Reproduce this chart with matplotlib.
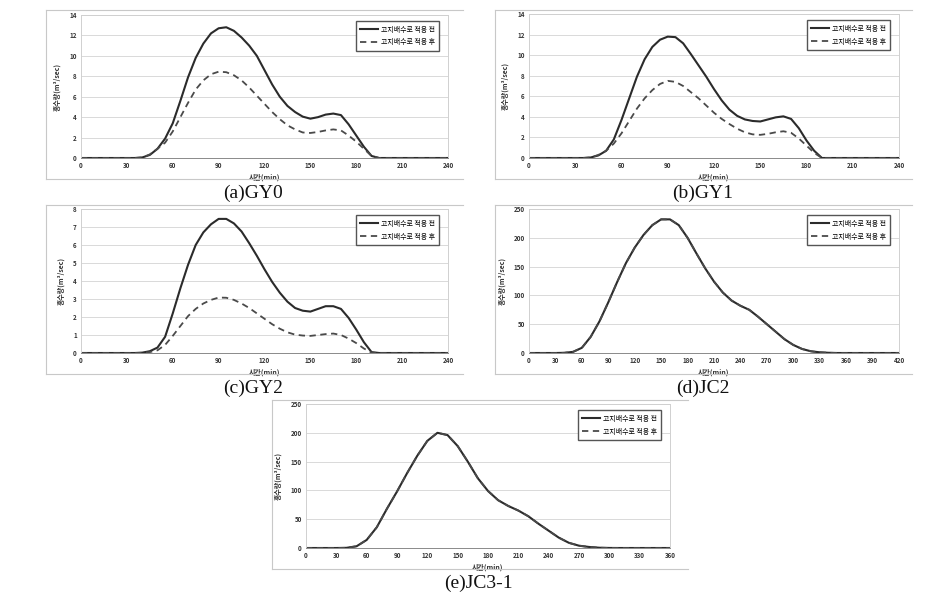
import matplotlib
matplotlib.use("Agg")
import matplotlib.pyplot as plt
from matplotlib.lines import Line2D

plt.rcParams['font.family'] = ['Noto Sans CJK KR', 'DejaVu Sans']

W, H = 942, 594

# --- data (min, m3/sec) ---
gy_t = [0, 35, 40, 45, 50, 55, 60, 65, 70, 75, 80, 85, 90, 95, 100, 105, 110, 115,
        120, 125, 130, 135, 140, 145, 150, 155, 160, 165, 170, 175, 180, 185, 190, 195, 240]

gy0_before = [0, 0, 0.05, 0.3, 0.9, 1.9, 3.4, 5.6, 7.9, 9.8, 11.2, 12.2, 12.7, 12.8, 12.45,
              11.8, 11.0, 10.0, 8.6, 7.2, 6.0, 5.1, 4.5, 4.05, 3.85, 4.0, 4.25, 4.35, 4.2,
              3.3, 2.2, 1.1, 0.2, 0, 0]
gy0_after = [0, 0, 0.05, 0.35, 0.9, 1.5, 2.6, 4.0, 5.4, 6.7, 7.6, 8.2, 8.45, 8.4, 8.1,
             7.6, 6.9, 6.1, 5.3, 4.5, 3.8, 3.2, 2.8, 2.5, 2.45, 2.55, 2.7, 2.8, 2.7,
             2.2, 1.6, 0.9, 0.2, 0, 0]

gy1_before = [0, 0, 0.05, 0.25, 0.7, 1.8, 3.7, 5.8, 7.9, 9.6, 10.8, 11.5, 11.8, 11.75, 11.15,
              10.1, 9.0, 7.9, 6.7, 5.6, 4.7, 4.1, 3.75, 3.6, 3.55, 3.75, 3.95, 4.05, 3.8,
              2.9, 1.7, 0.7, 0, 0, 0]
gy1_after = [0, 0, 0.05, 0.3, 0.7, 1.4, 2.4, 3.6, 4.8, 5.8, 6.6, 7.2, 7.5, 7.4, 7.0,
             6.4, 5.8, 5.1, 4.4, 3.8, 3.3, 2.85, 2.5, 2.3, 2.25, 2.35, 2.5, 2.6, 2.45,
             1.9, 1.2, 0.5, 0, 0, 0]

gy2_before = [0, 0, 0.02, 0.1, 0.3, 0.9, 2.2, 3.6, 4.9, 6.0, 6.7, 7.15, 7.45, 7.45, 7.2,
              6.75, 6.1, 5.4, 4.65, 3.95, 3.35, 2.85, 2.5, 2.35, 2.3, 2.45, 2.6, 2.6, 2.45,
              1.95, 1.3, 0.6, 0.05, 0, 0]
gy2_after = [0, 0, 0.01, 0.05, 0.15, 0.45, 0.95, 1.5, 2.05, 2.45, 2.75, 2.95, 3.08, 3.07, 2.95,
             2.75, 2.5, 2.2, 1.9, 1.6, 1.35, 1.15, 1.02, 0.97, 0.95, 1.0, 1.05, 1.08, 1.0,
             0.8, 0.55, 0.25, 0.02, 0, 0]

jc2_t = [0, 30, 40, 50, 60, 70, 80, 90, 100, 110, 120, 130, 140, 150, 160, 170, 180, 190,
         200, 210, 220, 230, 240, 250, 260, 270, 280, 290, 300, 310, 320, 330, 340, 350, 420]
jc2_before = [0, 0, 0.3, 2, 9, 28, 55, 88, 123, 156, 183, 205, 222, 232, 232, 222, 200, 173,
              147, 124, 105, 91, 82, 75, 63, 50, 37, 24, 14, 7, 3, 1.2, 0.4, 0, 0]
jc2_after = list(jc2_before)

jc3_t = [0, 30, 40, 50, 60, 70, 80, 90, 100, 110, 120, 130, 140, 150, 160, 170, 180, 190,
         200, 210, 220, 230, 240, 250, 260, 270, 280, 290, 300, 310, 360]
jc3_before = [0, 0, 0.3, 3, 14, 36, 68, 98, 130, 160, 186, 200, 196, 177, 150, 121, 99, 83,
              73, 65, 55, 42, 30, 18, 9, 4, 1.8, 0.5, 0.1, 0, 0]
jc3_after = list(jc3_before)

legend_labels = ["고지배수로 적용 전", "고지배수로 적용 후"]
xlabel = "시간(min)"
ylabel = "홍수량(m³/sec)"

# panel: caption, t, before, after, xmax, xstep, ymax, ystep, axes box px, frame px, caption pos px
panels = [
    ("(a)GY0", gy_t, gy0_before, gy0_after, 240, 30, 14, 2, (81, 15, 448, 158), (46, 10, 463, 179), (253, 193)),
    ("(b)GY1", gy_t, gy1_before, gy1_after, 240, 30, 14, 2, (529, 14, 899, 158), (495, 10, 912, 179), (703, 193)),
    ("(c)GY2", gy_t, gy2_before, gy2_after, 240, 30, 8, 1, (81, 209, 448, 353), (46, 205, 463, 374), (253, 388)),
    ("(d)JC2", jc2_t, jc2_before, jc2_after, 420, 30, 250, 50, (529, 209, 899, 353), (495, 205, 912, 374), (703, 388)),
    ("(e)JC3-1", jc3_t, jc3_before, jc3_after, 360, 30, 250, 50, (306, 404, 670, 548), (272, 400, 688, 569), (478, 583)),
]

fig = plt.figure(figsize=(W / 100, H / 100), dpi=100)

for cap, t, before, after, xmax, xstep, ymax, ystep, box, frame, cpos in panels:
    # outer chart frame (top, left, bottom)
    x0, y0, x1, y1 = frame
    fx0, fx1 = x0 / W, x1 / W
    fy0, fy1 = 1 - y1 / H, 1 - y0 / H
    for xs, ys in [([fx0, fx1], [fy1, fy1]), ([fx0, fx0], [fy0, fy1]), ([fx0, fx1], [fy0, fy0])]:
        fig.add_artist(Line2D(xs, ys, color="#c8c8c8", lw=0.8))

    l, tp, r, b = box
    ax = fig.add_axes([l / W, 1 - b / H, (r - l) / W, (b - tp) / H])
    ax.plot(t, before, color="#2b2b2b", lw=1.5, solid_joinstyle="round", label=legend_labels[0])
    ax.plot(t, after, color="#4a4a4a", lw=1.3, ls=(0, (3.5, 2.5)), dash_joinstyle="round",
            label=legend_labels[1])
    ax.set_xlim(0, xmax)
    ax.set_ylim(0, ymax)
    ax.set_xticks(range(0, xmax + 1, xstep))
    ax.set_yticks(range(0, ymax + 1, ystep))
    ax.grid(axis="y", color="#d9d9d9", lw=0.7)
    ax.set_axisbelow(True)
    for s in ax.spines.values():
        s.set_color("#d0d0d0")
        s.set_linewidth(0.7)
    ax.spines["bottom"].set_color("#8a8a8a")
    ax.tick_params(length=0, labelsize=4.5, pad=3, colors="#333333")
    for lab in ax.get_xticklabels() + ax.get_yticklabels():
        lab.set_fontweight("bold")
    ax.set_xlabel(xlabel, fontsize=5, fontweight="bold", labelpad=3, color="#333333")
    ax.set_ylabel(ylabel, fontsize=5, fontweight="bold", labelpad=6, color="#333333")
    ax.legend(loc="upper right", bbox_to_anchor=(0.975, 0.955), fontsize=5, frameon=True,
              fancybox=False, edgecolor="#555555", framealpha=1, handlelength=2.6,
              borderpad=0.6, labelspacing=0.7, handletextpad=0.4, borderaxespad=0)

    fig.text(cpos[0] / W, 1 - cpos[1] / H, cap, ha="center", va="center",
             fontsize=14, family="Liberation Serif", color="#111111")

fig.savefig("out.png", dpi=100)
